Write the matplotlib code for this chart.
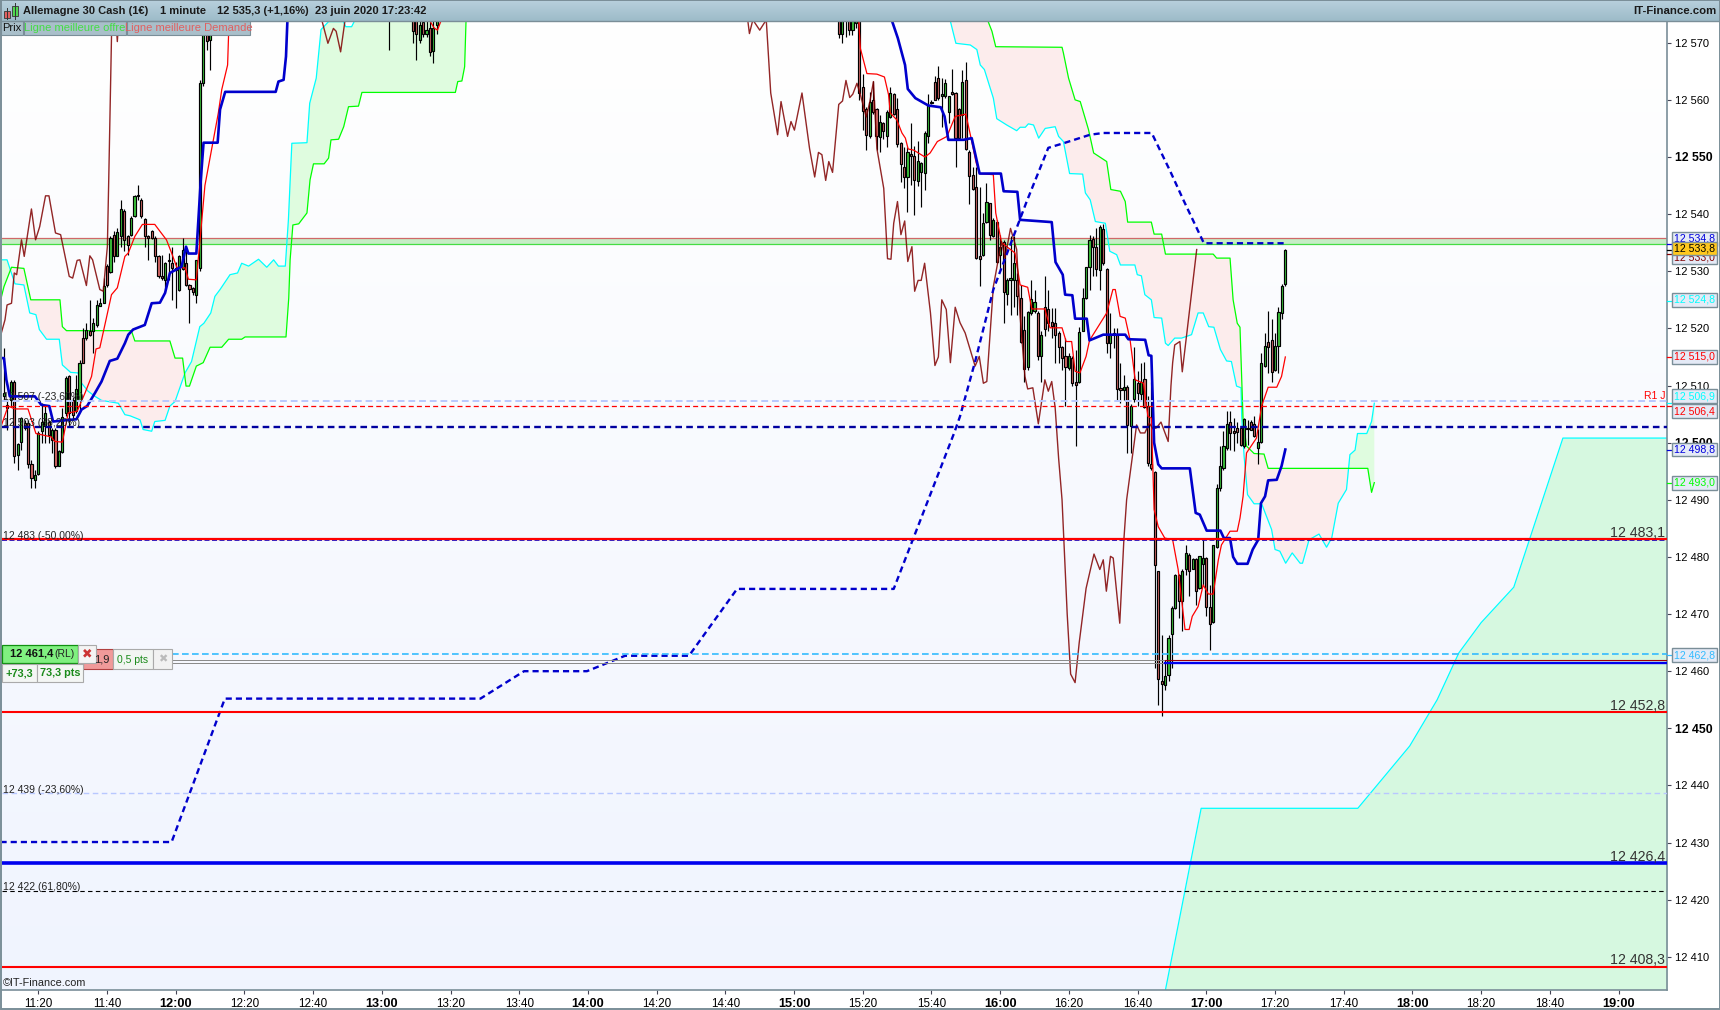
import numpy as np
import matplotlib
matplotlib.use("Agg")
import matplotlib.pyplot as plt
from matplotlib.patches import Rectangle

plt.rcParams['font.family'] = ['Liberation Sans', 'DejaVu Sans']

# all x values: minutes after 11:00, all prices below: price - 12000
BASE = 12000

# bars (open, close, high, low)
bars_morning = [
    (508.1,508.7,516.6,507.5),(506.6,506.1,507.5,502.3),(507.5,510.7,511,506.4),(510.6,497.7,510.9,496.4),
    (497.9,499.7,500,495.3),(500.2,504.3,504.5,498.8),(503.4,502.6,504,502.3),(503.4,496.2,504,495.6),
    (496.2,493.8,497,492.1),(493.5,494.4,495.3,492.1),(494.5,501.7,502,494.4),(502,503.7,507,500),
    (502.9,505.2,506.4,500),(503.7,501.4,504,500),(500.5,502.3,502.6,498.2),(502.3,495.9,502.6,495.6),
    (496,498.5,498.8,495.9),(498.4,504.5,506,498.2),(505.2,511.3,511.6,504.6),(511.6,505.2,511.9,502.9),
    (507.5,504.9,508,504),(505.5,509.4,511.9,505.2),(507.5,514,514.5,505.8),(518.3,514,520,513.9),
    (518.4,519.8,520.9,518),(519.5,518.8,525,518.6),(519.5,520.9,521.8,515.7),(520.6,524.1,525,520.3),
    (524,524.4,525.3,523.9),(524.5,527.5,528.8,524.4),(531,527.6,531.2,527.3),(529.8,535.8,536.1,529.7),
    (536.4,532.6,537,531.7),(532.7,536.8,537.5,532.6),(536.1,540.9,542.5,534.3),(540.6,535.5,540.9,533.5),
    (536.1,534.6,536.4,532.9),(536.4,539.4,539.6,536.1),(539.6,543.2,543.4,539.5),(543.4,543.1,545.1,542.5),
    (542.5,539.6,542.8,539.3),(539.1,536.1,539.3,534.3),(536.1,535.8,536.4,532),(537,535.8,537.3,535.6),
    (535.8,532.7,536.1,531.7),(532.7,529.1,532.9,528.8),(529.1,528.8,532.9,528.5),(528.5,531.5,531.7,526.8),
    (532,531.8,533.2,528.5),(531.4,530.5,534.3,525),(530.5,530.3,531.7,523.6),(526.8,532.7,532.9,526.5),
    (530.4,533.8,535.8,530.3),(531.5,527.6,534.3,527.5),(527.6,526.9,527.8,520.9),(527,526.3,527.2,525.9),
    (525.9,532,532,524.5),(530.5,562.9,563.5,530.1),(562.9,571.7,575,562.5),(571.7,570.3,575,568.7),
    (570.5,571.7,575,565.2),
]
bars_morning_start = 10

# the few bars that reach into the picture from above around 13:00
bars_noon_min = [122, 129, 130, 131, 132, 133, 134, 135, 136]
bars_noon = [
    (577,576,578,568.7),(576,572,578,570),(576,571.6,578,567),(570.4,573.1,578,570),(573.6,571.5,578,571),
    (571.6,572.3,578,571),(572.5,568.3,578,567.6),(568.6,572.6,578,566.4),(573.1,574,578,571.6),
]

bars_afternoon = [
    (577,571.6,580,570.9),(571.6,577,580,569.9),(577,574.5,580,571),(577,572.2,580,571.4),(572.2,577,580,571.4),
    (573.4,577,580,572.5),(578,561.2,580,560),(562.2,558.1,564.5,554.7),(558.4,553.8,558.8,551.2),
    (553.6,559.7,561.3,553.3),(559.9,557.8,563.3,557.6),(558.4,553.6,558.6,551.2),(553.5,556.2,557.4,550.8),
    (555.9,554.6,556.2,553.2),(553.7,557.8,558.2,551.8),(557,561.2,562.3,556.9),(561,557.6,561.2,557.3),
    (558.4,552.3,560.3,551.8),(552.4,548.8,552.7,545.7),(548.3,546.5,551.8,544.6),(546.5,550.8,551.8,540.3),
    (550.6,550.1,555.9,545.1),(550.2,546,552,539.9),(545.8,549.3,552.8,545),(547.3,548.9,549.2,541.3),
    (547.2,554.2,554.5,544.2),(553.6,559.1,561,552.4),(559.4,559.7,560,559.2),(563.2,560,564.1,560),
    (563.8,560.3,566,560),(560.6,561,563.8,555.2),(560.6,562.9,563.6,560.4),(557.8,560.6,560.7,555.9),
    (561.3,561,565.4,560.9),(561.2,553.4,561.3,548.3),(558.4,553.3,558.6,553.1),(557.4,563.2,565.3,553.3),
    (563.4,551.4,566.7,551.3),(550.9,546.6,551.3,541.8),(546.9,544.4,548.3,544.3),(544.7,532.3,548.3,532.1),
    (532.7,532.1,544.8,527.4),(532.9,538.4,540.2,532.7),(538.6,542.2,545.4,538.4),(541.9,536.4,542,535.5),
    (536.2,539,539.3,536),(538.7,531.7,539,531.4),(532.9,534.3,536.4,530.3),(535.2,526.4,535.5,520.9),
    (526,528.5,528.8,524.1),(528.5,528.6,536.1,522.4),(528.5,531.4,536.1,523.8),(528.5,525.7,529.7,522.4),
    (525.4,517.7,527.6,517.4),(519.8,512.9,522.1,510.7),(513.2,522.8,523,512.8),(522.7,525.1,528.5,522.4),
    (523,524.7,526.8,522.7),(522.7,515.1,523,514.5),(515.2,518.9,519.5,510.7),(523.7,519.9,529.1,518.6),
    (523.4,521,526.8,519.5),(521.1,520.5,523.5,518.3),(520.9,518.9,523.5,514),(519.2,516.7,519.5,514),
    (516.8,514.8,517,512.8),(515.2,513.2,518.3,506.4),(513.1,515.2,515.7,512.8),(514.8,510.4,515.1,509.9),
    (510.7,510.1,516.3,499.4),(510.6,519.4,520.3,510.4),(519.6,525.3,527,519.5),(525.3,530.7,530.8,525.1),
    (530.7,535.5,536.4,526.8),(535.6,534.3,536.1,529.2),(534.2,530.4,537.5,529.1),(530.3,537.7,538.1,526.8),
    (537.4,531.4,538.3,531.1),(530.4,517.4,530.6,515.7),(517.4,518.9,522.7,514.8),(519.1,518.9,520,516.6),
    (518.9,509.4,520,507.5),(509.5,509.3,514,506.9),(509.3,509.8,511.9,507.5),(509.7,503.1,510.1,498.2),
    (503,506.5,506.7,498.2),(507.6,511.1,516.8,507.2),(510.5,508.7,512.5,506.4),(508.6,510.7,514,507.5),
    (511.1,506.2,514.2,506.1),(506.5,496.4,508.1,496),(496.2,495.6,510.7,495.3),(494.8,478.6,495,460.6),
    (477.5,458.6,477.6,454),(458.2,457.8,466.4,452.2),(457.5,459.1,462,456.7),(459.3,465.8,466.4,458.2),
    (466.5,471.1,471.4,460.6),(471.1,476.9,477,470.9),(476.9,472.3,477,469.3),(472.2,477.6,477.8,467),
    (477.9,480.7,482.1,476.9),(480.3,477.5,480.6,473.1),(477.9,479.6,479.8,477.8),(479.6,474.1,479.8,471.6),
    (474.6,480.1,480.2,474.4),(478.8,479.8,482.9,475.1),(479.8,471.2,480,469.6),(471.2,468.3,475,463.7),
    (468.6,482,482.1,468.4),(481.7,492,492.8,481.5),(492,496,499.4,491.5),(495.6,499.5,502,495.3),
    (499.1,503.3,505.5,498.8),(503.6,501.7,505.5,498.8),(502,501.7,504.3,498.5),(502.6,501.9,503.7,500),
    (502.6,499.6,502.9,499.4),(499.4,504.2,504.3,499.1),(502.6,502.4,504,499.6),(503.6,502.3,504,502.2),
    (503.3,501.1,504.6,501),(499.1,500.2,502.4,496.2),(500.2,513.9,515.7,499.9),(513.5,517,519.2,513.3),
    (517.7,516.8,523.1,512.2),(518,512.4,521.6,510.7),(512.7,517,519.2,512.5),(517,522.8,523.8,512.2),
    (522.7,527.5,527.7,521.6),(527.7,533.8,533.9,527.5),
]
bars_afternoon_start = 253

# indicator lines, (minute, price)
kijun = [
    (9.1,514.8),(10,514.8),(10.7,511),(11.7,508.1),(13.7,508.1),(19,508.1),(20.9,506.6),(23.2,506.4),(24.3,503.7),
    (31.1,504.1),(32.6,505.8),(34.2,506.4),(36.5,508.7),(38.4,510.7),(40.8,514.3),(43,514.7),(45.2,517.4),
    (46.2,518.9),(47.6,519.8),(51,520.6),(53,524.4),(55.4,524.5),(56.9,526.2),(58.3,529.7),(61.7,530.8),(63,534.3),
    (63.7,533.1),(66,533.1),(67.3,546),(68.1,552.5),(72.2,552.5),(72.9,558.3),(74.4,561.4),(89.1,561.4),(89.9,563.2),
    (91.4,563.5),(92.1,567.6),(92.5,573.7),(96,580),(265,580),(268.4,574),(270.2,570.8),(272.3,566.1),(273.1,561.9),
    (275.3,560.3),(279.1,559),(282.7,558.7),(283.8,557.1),(284.9,553),(289.3,553),(291.7,553.3),(294,547.1),
    (300.2,547.1),(301,544),(305,543.9),(305.8,539),(315,538.6),(316.1,531.6),(318.2,529.4),(318.9,525.9),(321,525.8),
    (321.8,521.7),(325.2,521.7),(326,517.9),(330,518.9),(336.4,518.9),(337.3,518.1),(342.2,518),(343.2,515.3),
    (344,515.2),(344.8,500),(346,496.2),(347,495.5),(355.2,495.5),(356.9,487.7),(358.1,487.4),(360.1,484.6),
    (364.1,484.6),(365.1,483.3),(366.9,483.3),(367.8,480),(369,478.8),(372,478.8),(373.5,481.3),(375.1,483),
    (375.9,489.4),(377.1,490.6),(378,493.4),(380.5,493.5),(381.9,495.9),(383,498.8),
]
tenkan_a = [
    (9.3,503.1),(11.2,506.4),(13.2,505.9),(17,505.9),(19.3,501.6),(23.8,501),(24.8,500.2),(27,500.1),(28.7,505.2),
    (31.3,505.5),(33.6,508.7),(35.5,511.6),(36.8,516.4),(37.9,516.6),(39.7,521.5),(41.3,525.9),(43,527.1),(45.2,532.6),
    (46.2,533.2),(48.1,536.1),(50.3,538.2),(53.9,538.2),(55.4,537),(57.3,535.5),(58.8,533.2),(60.3,530.7),(62.7,530.6),
    (63.7,528.6),(66,528.5),(67,535),(68.5,545),(72.4,557.7),(73.4,561.8),(75.1,566.1),(75.4,571.7),(75.5,573.7),
    (76,580),(133,580),(133.8,574),(135.2,572.6),(136.2,572.2),(137.2,573.8),(138,580),
]
tenkan_b = [
    (258,580),(258.8,574),(259.3,569),(261.2,564.6),(264.1,564.5),(266.3,564),(267.5,560.9),(268,557.7),(269.9,556.5),
    (271.4,554.2),(272.4,553.3),(273.2,551.4),(274.8,551.2),(278.1,550),(279.6,550.7),(281.7,552.7),(284.5,553.6),
    (286.9,557.1),(290,557.5),(291.3,553.9),(293,549),(294,547.1),(298,546.9),(298.7,540.2),(300.4,535),(304.3,533.2),
    (305.8,527.6),(308,527.2),(309.2,523.4),(313,523.4),(314.5,520.1),(318,520.1),(319.2,517.7),(320.8,517.7),
    (321.8,512.5),(323.2,512.2),(325,515.1),(326,517.9),(331,522.7),(332.8,526.8),(333.5,526.8),(334.9,522.1),
    (336.4,521.8),(337.8,518),(339.3,511),(341.7,510.4),(343,504.6),(344,504.3),(344.8,488.3),(346,485.3),(347.9,483.3),
    (350.2,483),(351.8,477.8),(353.8,467.3),(355,467.3),(355.9,469.6),(357.6,471.3),(359.1,475.1),(360.6,473.5),
    (362,473.5),(363.5,479.5),(364.4,482.1),(366.9,484.5),(369,484.5),(369.8,486.8),(370.7,490.6),(371.7,498.2),
    (374.6,500.8),(376.1,506.4),(378,509.7),(380.5,509.7),(381.9,511.6),(383,515),
]
chikou_a = [
    (9.1,518.9),(10.3,521.5),(10.9,524.1),(12.2,524.4),(13,529.7),(13.7,529.4),(15.1,535.5),(15.9,532.6),(18,540.9),
    (19.2,535.5),(20.4,537.8),(22.1,543.2),(23.1,543.2),(25,536.7),(26.5,536.4),(29,529.1),(30,528.8),(31.3,531.9),
    (32.1,532),(34,527.5),(35,532.7),(35.8,532),(37.9,526.8),(38.9,526.5),(40.1,534.3),(40.5,546),(41.4,574),(42,578),
    (42.5,575),(43,570.2),(43.5,575),(44,580),
]
chikou_b = [
    (102,580),(102.5,574),(104.3,569.9),(105.9,572.5),(106.7,572),(108,568.4),(109.3,574),(110,580),
]
chikou_c = [
    (226,580),(226.5,574),(227,571.6),(228,574),(230,572.2),(231.9,574),(233.2,561.2),(235.2,553.9),(236.2,559.7),
    (238.1,553.6),(239.1,556.2),(240.1,554.7),(242.3,561.2),(244.5,551.5),(246,546.5),(247.1,550.8),(248.1,550.4),
    (249.2,545.9),(250.1,549.2),(251.2,547.3),(253,559.2),(254.1,559.8),(255.1,563.4),(256.2,560.4),(257.1,561),
    (258.3,562.9),(259.3,560.9),(261,557),(262,559.5),(263.1,563.2),(264.1,551.5),(266.1,544.5),(267.2,532.2),
    (268.2,532.1),(269,538.4),(270.1,542.2),(271.1,536.4),(272.2,538.8),(273.1,531.7),(274.3,534.3),(275.1,526.5),
    (276.1,528.4),(277,528.4),(278,531.4),(279.7,522.7),(281,513.5),(282,515),(283,525),(284.3,523.3),(285.5,514),
    (286.9,523.7),(288.3,521),(289.8,519.2),(292.7,513.4),(293.9,515.1),(295.1,510.4),(296.1,510.7),(298,527.3),
    (300.4,535.2),(301.4,532.3),(303,537.5),(304.8,533.8),(305.8,522.1),(307.2,511.6),(308,509.4),(309.5,509.6),
    (311.1,503.3),(313,511),(314,509),(315,510.7),(316,506.1),(317,497.3),(318,490),(319.5,470),(320.5,459.5),
    (321.8,458),(323,465),(325,474.5),(327.3,480.5),(329,477.8),(330,479.5),(330.9,474),(332.1,480.1),(332.9,479.8),
    (334.8,468.4),(336,483),(336.8,490),(339.7,503.1),(340.8,501.7),(342.1,501.7),(343.4,503.4),(344.5,502.4),
    (345.5,502.6),(346.8,503.6),(348.9,500.2),(349.7,509.9),(350.2,514),(350.8,517.1),(352.3,517.7),(353,512.4),
    (357.2,533.8),
]
slow_dashed = [
    (9,430.1),(58.8,430.1),(74.3,455.2),(148.7,455.2),(161.4,460),(179.7,460),(190.8,462.7),(209.4,462.7),(223.4,474.4),
    (269,474.4),(286.6,501.7),(288.3,504.6),(292.7,514.2),(298,526.8),(307.7,542.2),(314,551.6),(318.4,552.4),
    (326.2,553.9),(330,554.2),(344.1,554.2),(349.5,547.5),(353.3,542.5),(359.3,534.9),(382.9,534.9),
]
senkou_a = [
    (8.8,532),(10.9,532),(13.2,527.8),(15.8,527.6),(17.5,522.7),(19.3,522.4),(20.3,519.8),(22.4,518.1),(26.1,518.1),
    (27,513.6),(29.4,512.3),(31.6,512.2),(32.6,510.4),(34.5,509),(36.5,508.1),(38.4,507.4),(43.3,506.9),(45.2,504.9),
    (46.7,504.7),(49.6,504),(50.5,502.3),(53,502),(53.9,503.7),(56.9,503.9),(58.3,506.4),(59.8,507.2),(62.7,512.2),
    (64.6,514.2),(67,520.3),(68.2,520.9),(70.2,522.7),(71.4,525.6),(72.9,526.8),(75.8,529.4),(78,529.7),(79.2,531.4),
    (81.2,530.9),(84.1,532.1),(86.5,530.7),(88.5,532),(89.9,530.9),(91.9,530.9),(92.8,539),(93.8,552.4),(98.2,552.5),
    (99,559.4),(100.9,563.8),(102.3,572.3),(104.5,573.7),(108.8,573.7),(109.5,572.8),(111.2,572.8),(112.2,574),(115,580),
    (284,580),(285.4,574),(287.1,569.9),(291.3,569.6),(293.2,568.8),(294.2,566.1),(295.4,565.3),(298,560.3),(299,556.7),
    (301.9,555.6),(304.8,554.6),(305.8,555.2),(307.3,555.2),(308.2,555.8),(309.7,555.6),(311.2,553.3),(313.1,555),
    (316,555.3),(317,553.6),(318.4,552.7),(320.2,547.1),(324,547),(324.8,543.7),(326.2,542.5),(327.7,538.7),(330.6,538.4),
    (331.9,533.5),(333.9,532.9),(335,531.1),(339.2,531.1),(339.9,529.4),(341.1,529.2),(342.1,525.9),(344,525),(344.8,521.9),
    (347,521.8),(348.1,517.4),(348.9,517),(350.8,518.3),(352.8,518.3),(355.7,518.9),(357.6,522.7),(359.1,522.7),(360.7,520.3),
    (362.2,520.2),(364.1,516.3),(365.9,514.3),(367.3,514.2),(368.8,509.9),(370.1,509.6),(370.3,504.6),(371,497.6),(372,490.9),
    (373.9,489.3),(376.1,489.3),(379,484.8),(380,481.3),(381.4,481),(383.1,478.9),(385,480.7),(387.3,478.9),(388,478.9),
    (389.9,483),(392.8,484),(395,481.7),(396.5,483.3),(398.4,489.4),(400.8,491.8),(401.8,497.9),(403.3,498.7),(404,501.6),
    (406.7,501.6),(408.1,503.7),(408.9,506.9),
]
senkou_b = [
    (8.8,524.4),(10,527.3),(12.2,530.7),(15.8,530.5),(17.8,525),(26.3,525),(27,520.3),(28.2,519.6),(47.1,519.6),(48.1,517.8),
    (58.3,517.8),(59.8,514.8),(62,514.8),(63,509.9),(64,509.9),(66,513.4),(68,514),(70,516.7),(73.4,516.7),(75.4,518.1),
    (79.2,518.1),(80.2,518.5),(92.1,518.5),(92.9,525.3),(93.3,532),(94.1,538.1),(95.8,538.3),(98.2,540.2),(99.1,546),
    (100.1,548.8),(103.2,548.8),(104.5,549.8),(105.2,553),(107.4,553.1),(108.9,555.3),(110.3,558.8),(113.2,558.9),
    (114.2,561.3),(141.4,561.3),(142.1,563.2),(143.3,563.3),(144.1,565.8),(144.5,573.7),(146,580),(295,580),(296.3,574),
    (297.6,572),(298.7,569.3),(318,569.2),(318.4,568.2),(319.9,563.8),(321.8,560),(323.3,559.7),(325.7,554.8),(327.2,550.7),
    (331,549.2),(332.2,544.3),(335,544),(336.4,542.2),(337.1,538.6),(344,538.6),(344.8,536.5),(347,536.5),(348.1,533),
    (362,533),(363,532.3),(366.9,532.3),(367.8,525),(369,520.9),(369.8,520.2),(370.7,504),(371.7,499.4),(373.9,498.1),
    (376.8,498),(378,495.5),(407,495.5),(408.1,491.3),(408.9,493),
]
# big lagging cloud at the bottom right, filled down to the axis
long_cloud = [
    (348,403.9),(358.5,436),(404.1,436),(419.2,446.9),(427.2,455),(433.5,463.2),(440,468.5),(449.5,474.7),(463.8,500.8),(495,500.8),
]

# horizontal levels
band_low, band_high = 12534.7, 12535.9
r1_level = 12506.4
fib_levels = [12507.3, 12502.8, 12483.0, 12438.6, 12421.5]
fib_labels = ['12 507 (-23,60%)', '12 503 (38,20%)', '12 483 (-50,00%)', '12 439 (-23,60%)', '12 422 (61,80%)']
named_levels = [12483.1, 12452.8, 12426.4, 12408.3]
named_labels = ['12 483,1', '12 452,8', '12 426,4', '12 408,3']
named_colors = ['#ff0000', '#ff0000', '#0000ee', '#ff0000']
named_widths = [1.6, 1.5, 2.6, 1.5]
order_level = 12463.0
position_levels = [12461.9, 12461.4]

# boxes on the price scale
box_prices = [12534.8, 12533.0, 12533.8, 12524.8, 12515.0, 12506.9, 12506.4, 12498.8, 12493.0, 12462.8]
box_labels = ['12 534,8', '12 533,0', '12 533,8', '12 524,8', '12 515,0', '12 506,9', '12 506,4', '12 498,8', '12 493,0', '12 462,8']
box_colors = ['#0000dd', '#800000', '#000000', '#00ffff', '#ff0000', '#00ffff', '#ff0000', '#0000dd', '#00ff00', '#33bbff']
box_shift = [5, -3, 1, 1, 0, 7, -5, 0, 0, 0]

y_ticks = list(range(12410, 12580, 10))
x_ticks = list(range(20, 481, 20))


def draw_bars(minutes, rows):
    rows = np.array(rows) + BASE
    o, c, h, l = rows.T
    minutes = np.array(minutes)
    ax.vlines(minutes, l, h, color='black', lw=0.85, zorder=4)
    col = np.where(c >= o, '#3cc63c', '#d96a68')
    ax.bar(minutes, np.maximum(np.abs(c - o), 0.25), bottom=np.minimum(o, c), width=0.62,
           color=col, edgecolor='black', lw=0.85, zorder=5)


def line(points, **kw):
    pts = np.array(points)
    ax.plot(pts[:, 0], pts[:, 1] + BASE, **kw)


fig = plt.figure(figsize=(17.2, 10.1), dpi=100)
ax = fig.add_axes([2 / 1720, 20 / 1010, 1665 / 1720, 969 / 1010])
x_min, x_max = 9.43, 494.1
y_min, y_max = 12404.2, 12573.8

# background gradient
grad = np.linspace(0, 1, 256)[:, None, None] * np.array([-15, -11, -1]) / 255 + 1
ax.imshow(grad, extent=(x_min, x_max, y_min, y_max), aspect='auto', origin='upper', zorder=0)

# cloud fill
sa, sb = np.array(senkou_a), np.array(senkou_b)
grid = np.arange(8.8, 408.95, 0.05)
a_y = np.interp(grid, sa[:, 0], sa[:, 1]) + BASE
b_y = np.interp(grid, sb[:, 0], sb[:, 1]) + BASE
ax.fill_between(grid, a_y, b_y, where=a_y >= b_y, color='#dffcdf', lw=0, zorder=1)
ax.fill_between(grid, a_y, b_y, where=a_y < b_y, color='#fcecec', lw=0, zorder=1)

lc = np.array(long_cloud)
ax.fill_between(lc[:, 0], lc[:, 1] + BASE, y_min, color='#d6f8e0', lw=0, zorder=1)
ax.plot(lc[:, 0], lc[:, 1] + BASE, color='#00ffff', lw=0.9, zorder=2)

# best offer / demand band
ax.axhspan(band_low, band_high, color='#c6edc6', lw=0, zorder=2)
ax.axhline(band_high, color='#d06868', lw=0.9, zorder=2)
ax.axhline(band_low, color='#44dd44', lw=0.9, zorder=2)

# indicators below the bars
line(senkou_a, color='#00ffff', lw=0.9, zorder=3)
line(senkou_b, color='#00ff00', lw=0.9, zorder=3)

# candles
draw_bars(range(bars_morning_start, bars_morning_start + len(bars_morning)), bars_morning)
draw_bars(bars_noon_min, bars_noon)
draw_bars(range(bars_afternoon_start, bars_afternoon_start + len(bars_afternoon)), bars_afternoon)

line(tenkan_a, color='#ff0000', lw=0.9, zorder=6)
line(tenkan_b, color='#ff0000', lw=0.9, zorder=6)
for part in (chikou_a, chikou_b, chikou_c):
    line(part, color='#800000', lw=1.0, alpha=0.85, zorder=6)
line(kijun, color='#0000cc', lw=1.9, zorder=7)
line(slow_dashed, color='#0000cc', lw=1.7, ls=(0, (2.6, 1.7)), zorder=7)

# levels
ax.axhline(r1_level, color='#ff0000', lw=0.9, ls=(0, (4, 2.5)), zorder=8)
ax.axhline(fib_levels[0], color='#b8c8ff', lw=1.4, ls=(0, (3.5, 2)), zorder=8)
ax.axhline(fib_levels[1], color='#0000a0', lw=1.7, ls=(0, (2.8, 1.8)), zorder=8)
ax.axhline(fib_levels[2], color='#0000cc', lw=1.2, ls=(0, (3, 1.5)), zorder=8)
ax.axhline(fib_levels[3], color='#b8c8ff', lw=1.0, ls=(0, (4, 2.5)), zorder=8)
ax.axhline(fib_levels[4], color='#000000', lw=0.8, ls=(0, (4, 3)), zorder=8)
ax.axhline(order_level, color='#33bbff', lw=1.2, ls=(0, (4, 2)), zorder=8)
ax.axhline(position_levels[0], color='#888888', lw=0.7, zorder=8)
ax.axhline(position_levels[1], color='#888888', lw=0.7, zorder=8)
ax.plot([348, x_max], [position_levels[0]] * 2, color='#a00000', lw=0.8, zorder=8)
ax.plot([348, x_max], [position_levels[1]] * 2, color='#0000ee', lw=1.7, zorder=8)
for lev, col, w in zip(named_levels, named_colors, named_widths):
    ax.axhline(lev, color=col, lw=w, zorder=9)

for lev, lab in zip(fib_levels, fib_labels):
    ax.text(9.7, lev - 0.2, lab, fontsize=7.5, color='#222222', va='bottom', ha='left', zorder=9)
for lev, lab in zip(named_levels, named_labels):
    ax.text(x_max - 0.6, lev - 0.1, lab, fontsize=10.2, color='#333333', va='bottom', ha='right', zorder=9)
ax.text(x_max - 0.4, r1_level + 0.9, 'R1 J', fontsize=7.5, color='#ff0000', va='bottom', ha='right', zorder=9)
ax.text(9.8, 12404.6, '©IT-Finance.com', fontsize=7.8, color='#222222', va='bottom', ha='left', zorder=9)

ax.set_xlim(x_min, x_max)
ax.set_ylim(y_min, y_max)
for s in ('top', 'left'):
    ax.spines[s].set_visible(False)
for s in ('right', 'bottom'):
    ax.spines[s].set_color('#7a8e98')
    ax.spines[s].set_linewidth(1.2)

ax.yaxis.tick_right()
ax.set_yticks(y_ticks)
ax.set_yticklabels([f'{v // 1000} {v % 1000:03d}' for v in y_ticks], fontsize=8)
for v, t in zip(y_ticks, ax.get_yticklabels()):
    if v % 50 == 0:
        t.set_fontweight('bold')
        t.set_fontsize(8.8)
ax.set_xticks(x_ticks)
ax.set_xticklabels([f'{11 + m // 60}:{m % 60:02d}' for m in x_ticks], fontsize=8.4)
for m, t in zip(x_ticks, ax.get_xticklabels()):
    if m % 60 == 0:
        t.set_fontweight('bold')
        t.set_fontsize(9.2)
ax.tick_params(axis='y', length=3, width=0.8, color='#445', pad=2.5)
ax.tick_params(axis='x', length=3, width=0.8, color='#445', pad=2.5)

# boxes on the scale
trans = ax.get_yaxis_transform()
for p, lab, col, sh in zip(box_prices, box_labels, box_colors, box_shift):
    is_last = lab == '12 533,8'
    ax.annotate(lab, xy=(1.0, p), xycoords=trans, xytext=(5.2, sh * 0.72), textcoords='offset points',
                fontsize=7.6, color=col, va='center', ha='left', annotation_clip=False, zorder=20,
                bbox=dict(boxstyle='square,pad=0.18', fc='#ffc81e' if is_last else '#e4eaf6', ec='#7a8e98', lw=1.0))
    ax.plot([1.0, 1.003], [p, p], transform=trans, color=col if not is_last else 'black', lw=0.9, clip_on=False, zorder=19)

# window chrome and order widget, in image pixels
ui = fig.add_axes([0, 0, 1, 1], zorder=30)
ui.patch.set_alpha(0)
ui.axis('off')
head = np.linspace(0, 1, 21)[:, None, None] * (np.array([157, 187, 201]) - np.array([184, 208, 220])) / 255 + np.array([184, 208, 220]) / 255
ui.imshow(head, extent=(0, 1720, 21, 0), aspect='auto')
ui.set_xlim(0, 1720)
ui.set_ylim(1010, 0)
ui.plot([0, 1720], [21, 21], color='#7a8e98', lw=1)
ui.add_patch(Rectangle((0.5, 0), 1719, 1009, fill=False, ec='#7a8e98', lw=1.4))

ui.add_patch(Rectangle((3.5, 10.5), 6, 7, fc='#e06060', ec='#444444', lw=0.7))
ui.add_patch(Rectangle((11.5, 6), 6, 10, fc='#50d850', ec='#444444', lw=0.7))
ui.plot([14.5, 14.5], [3, 19], color='#333333', lw=0.7)
ui.plot([6.5, 6.5], [8, 19], color='#333333', lw=0.7)

head_font = dict(fontsize=8.0, fontweight='bold', color='#1a1a1a', va='center', ha='left')
ui.text(23, 11, 'Allemagne 30 Cash (1€)', **head_font)
ui.text(160, 11, '1 minute', **head_font)
ui.text(217, 11, '12 535,3 (+1,16%)', **head_font)
ui.text(315, 11, '23 juin 2020 17:23:42', **head_font)
ui.text(1716, 11, 'IT-Finance.com', fontsize=8.2, fontweight='bold', color='#1a1a1a', va='center', ha='right')

for x0, x1, txt, col in [(1, 23, 'Prix', '#111111'), (24, 126, 'Ligne meilleure offre', '#44dd44'),
                         (127, 250, 'Ligne meilleure Demande', '#e06060')]:
    ui.add_patch(Rectangle((x0, 21), x1 - x0, 14, fc='#a9bfca', ec='#7a8e98', lw=0.8))
    ui.text((x0 + x1) / 2, 28, txt, fontsize=8, color=col, va='center', ha='center')

ui.add_patch(Rectangle((83, 649), 30, 20, fc='#f09a9a', ec='#b04040', lw=0.8))
ui.text(102, 660, '1,9', fontsize=8, color='#222222', va='center', ha='center')
ui.add_patch(Rectangle((113, 649), 40, 20, fc='#f2f5f2', ec='#aaaaaa', lw=0.8))
ui.text(133, 660, '0,5 pts', fontsize=7.5, color='#1a8a1a', va='center', ha='center')
ui.add_patch(Rectangle((153, 649), 19, 20, fc='#f2f2f2', ec='#aaaaaa', lw=0.8))
ui.text(162.5, 659, '✖', fontsize=8, color='#bbbbbb', va='center', ha='center')
ui.add_patch(Rectangle((2, 645), 76, 18, fc='#80f080', ec='#109010', lw=0.9))
ui.text(10, 654, '12 461,4', fontsize=8, fontweight='bold', color='#111111', va='center', ha='left')
ui.text(54, 654, '(RL)', fontsize=7.5, color='#222222', va='center', ha='left')
ui.add_patch(Rectangle((78, 645), 18, 18, fc='#f4f4f4', ec='#aaaaaa', lw=0.8))
ui.text(87, 654, '✖', fontsize=9, color='#cc3333', va='center', ha='center')
ui.add_patch(Rectangle((2, 664), 35, 18, fc='#f4f6f4', ec='#aaaaaa', lw=0.8))
ui.text(19.5, 673, '+73,3', fontsize=7.8, fontweight='bold', color='#1a8a1a', va='center', ha='center')
ui.add_patch(Rectangle((37, 664), 46, 18, fc='#f4f6f4', ec='#aaaaaa', lw=0.8))
ui.text(60, 673, '73,3 pts', fontsize=7.8, fontweight='bold', color='#1a8a1a', va='center', ha='center')

fig.savefig('out.png', dpi=100)
